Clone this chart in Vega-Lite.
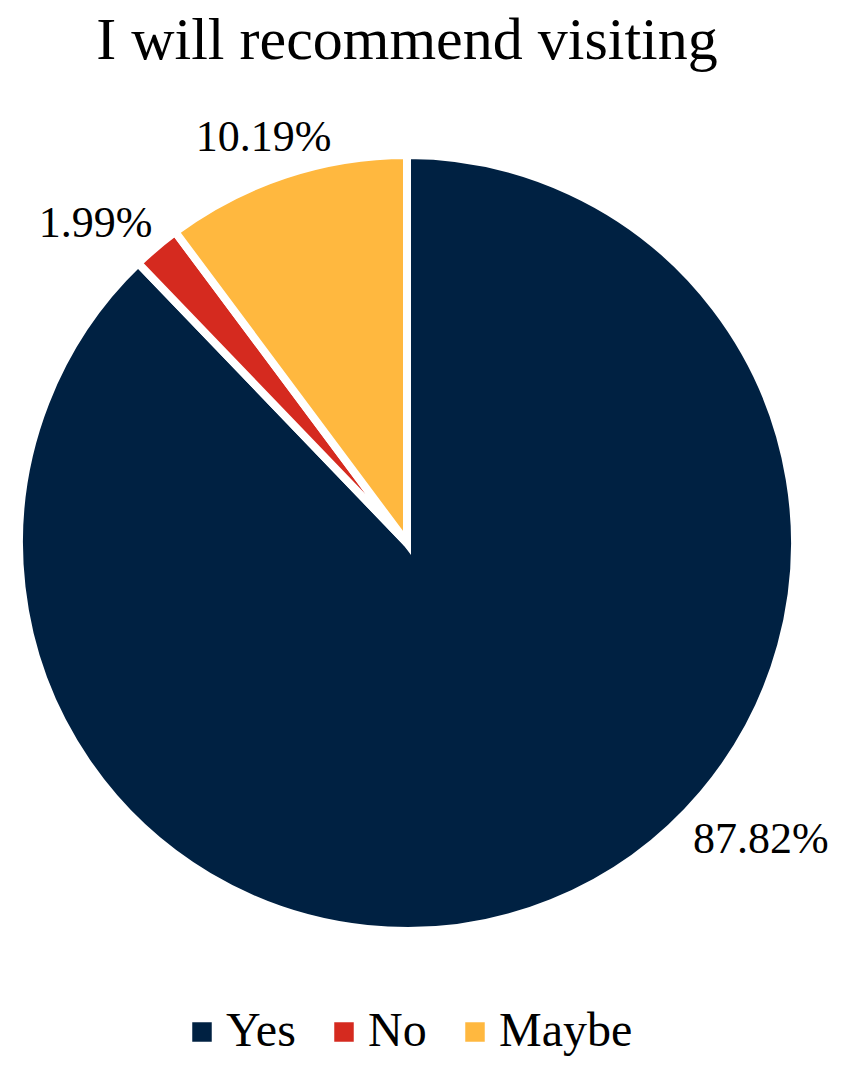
{
  "$schema": "https://vega.github.io/schema/vega-lite/v6.json",
  "width": 814,
  "height": 886,
  "autosize": "none",
  "padding": {"top": 100, "left": 0, "right": 43, "bottom": 94},
  "background": "white",
  "title": {
    "text": "I will recommend visiting",
    "font": "Liberation Serif",
    "fontSize": 60,
    "fontWeight": "normal",
    "color": "#000000",
    "anchor": "middle",
    "offset": 28
  },
  "data": {
    "values": [
      {"category": "Yes", "value": 0.8782, "order": 1},
      {"category": "No", "value": 0.0199, "order": 2},
      {"category": "Maybe", "value": 0.1019, "order": 3}
    ]
  },
  "encoding": {
    "theta": {"field": "value", "type": "quantitative", "stack": true},
    "order": {"field": "order", "type": "quantitative"}
  },
  "layer": [
    {
      "mark": {"type": "arc", "outerRadius": 388, "stroke": "white", "strokeWidth": 8},
      "encoding": {
        "color": {
          "field": "category",
          "type": "nominal",
          "sort": ["Yes", "No", "Maybe"],
          "scale": {"domain": ["Yes", "No", "Maybe"], "range": ["#002142", "#d52a1f", "#ffb83f"]},
          "legend": {
            "title": null,
            "orient": "none",
            "legendX": 178,
            "legendY": 908,
            "direction": "horizontal",
            "symbolType": "square",
            "symbolSize": 380,
            "symbolStrokeWidth": 0,
            "labelFont": "Liberation Serif",
            "labelFontSize": 48,
            "labelColor": "#000000",
            "labelOffset": 0,
            "columnPadding": 24
          }
        }
      }
    },
    {
      "mark": {"type": "text", "radius": 462, "thetaOffset": -0.49, "font": "Liberation Serif", "fontSize": 44, "color": "#000000"},
      "encoding": {
        "text": {"condition": {"test": "datum.category === 'Yes'", "field": "value", "type": "quantitative", "format": ".2%"}, "value": ""}
      }
    },
    {
      "mark": {"type": "text", "radius": 446, "thetaOffset": -0.07, "font": "Liberation Serif", "fontSize": 44, "color": "#000000"},
      "encoding": {
        "text": {"condition": {"test": "datum.category === 'No'", "field": "value", "type": "quantitative", "format": ".2%"}, "value": ""}
      }
    },
    {
      "mark": {"type": "text", "radius": 430, "thetaOffset": -0.02, "font": "Liberation Serif", "fontSize": 44, "color": "#000000"},
      "encoding": {
        "text": {"condition": {"test": "datum.category === 'Maybe'", "field": "value", "type": "quantitative", "format": ".2%"}, "value": ""}
      }
    }
  ],
  "config": {"view": {"stroke": null}}
}
